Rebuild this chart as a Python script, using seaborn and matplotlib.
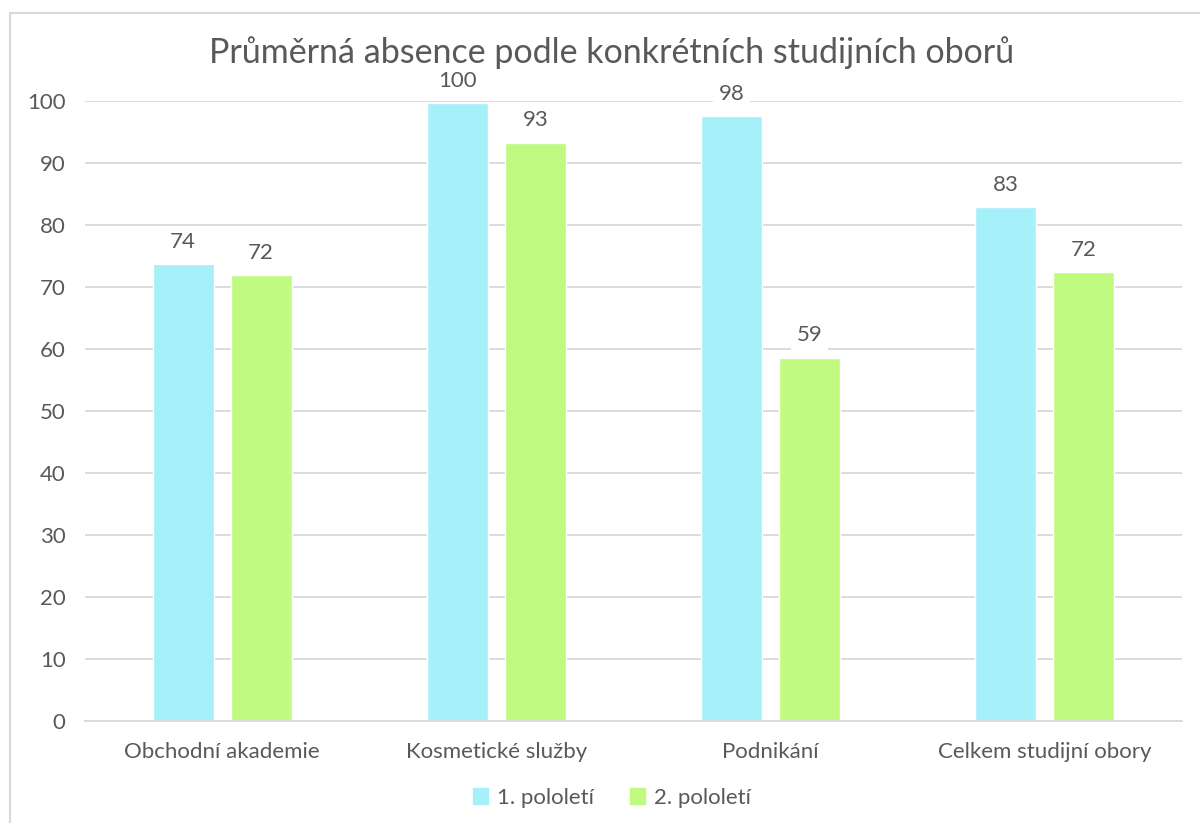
import matplotlib
matplotlib.use("Agg")
import matplotlib.pyplot as plt
import matplotlib.lines as mlines
import seaborn as sns
import pandas as pd

obory = ["Obchodní akademie", "Kosmetické služby", "Podnikání", "Celkem studijní obory"]
pololeti = ["1. pololetí", "2. pololetí"]
prvni = [73.7, 99.6, 97.6, 82.9]
druhe = [71.9, 93.3, 58.6, 72.4]
barvy = ["#A6F0FA", "#C0FA80"]

df = pd.DataFrame({
    "obor": obory * 2,
    "pololeti": [pololeti[0]] * 4 + [pololeti[1]] * 4,
    "absence": prvni + druhe,
})

sns.set_theme(style="white")
plt.rcParams["font.family"] = ["Lato", "DejaVu Sans"]
text_col = "#595959"

fig = plt.figure(figsize=(12, 8.23), dpi=100)
ax = fig.add_axes([85 / 1200, 1 - 721 / 823, (1182 - 85) / 1200, (721 - 101) / 823])

sns.barplot(data=df, x="obor", y="absence", hue="pololeti", palette=barvy,
            width=0.569, gap=0.22, ax=ax, legend=False, saturation=1)

ax.set_ylim(0, 100)
ax.set_xlim(-0.5, 3.5)
ax.set_yticks(range(0, 101, 10))
ax.yaxis.grid(True, color="#D9D9D9", linewidth=1.3)
ax.set_axisbelow(True)
for s in ["top", "right", "left"]:
    ax.spines[s].set_visible(False)
ax.spines["bottom"].set_color("#D9D9D9")
ax.spines["bottom"].set_linewidth(1.3)
ax.tick_params(axis="y", length=0, pad=14, labelsize=16, labelcolor=text_col)
ax.tick_params(axis="x", length=0, pad=15, labelsize=16, labelcolor=text_col)
ax.set_xlabel("")
ax.set_ylabel("")

for cont in ax.containers:
    for bar in cont:
        h = bar.get_height()
        ax.annotate(f"{h:.0f}", (bar.get_x() + bar.get_width() / 2, h),
                    xytext=(0, 16), textcoords="offset points",
                    ha="center", va="center", fontsize=16, color=text_col,
                    bbox=dict(facecolor="white", edgecolor="none", pad=4))

fig.suptitle("Průměrná absence podle konkrétních studijních oborů",
             x=612 / 1200, y=1 - 53 / 823, va="center", fontsize=24.5,
             color=text_col)

handles = [plt.Rectangle((0, 0), 1, 1, color=c) for c in barvy]
fig.legend(handles, pololeti, loc="center", bbox_to_anchor=(0.51, 1 - 798 / 823),
           ncol=2, frameon=False, fontsize=16, labelcolor=text_col,
           handlelength=0.7, handleheight=0.7, handletextpad=0.4, columnspacing=1.6)

fig.add_artist(mlines.Line2D([10 / 1200, 10 / 1200], [0, 1 - 13 / 823],
                             color="#D9D9D9", linewidth=1.5))
fig.add_artist(mlines.Line2D([10 / 1200, 1], [1 - 13 / 823, 1 - 13 / 823],
                             color="#D9D9D9", linewidth=1.5))

fig.savefig("out.png", dpi=100, facecolor="white")
